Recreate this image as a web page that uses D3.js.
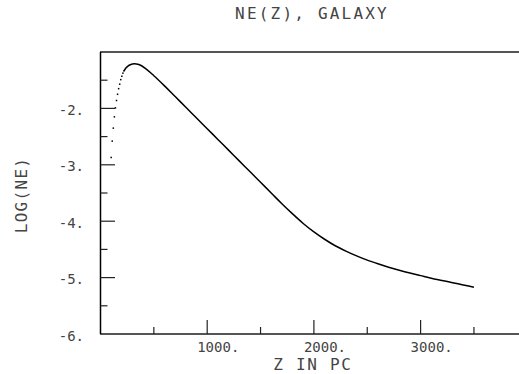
<!DOCTYPE html>
<html>
<head>
<meta charset="utf-8">
<script src="https://cdn.jsdelivr.net/npm/d3@7"></script>
<style>
  html, body { margin: 0; padding: 0; background: #fff; }
  text { font-family: "DejaVu Sans Mono", monospace; fill: #444; }
</style>
</head>
<body>
<svg id="chart" width="519" height="374"></svg>
<script>
// sparse rising part (drawn as separate dots, as in the plotter output)
const riseZ = [100, 110, 120, 130, 140, 150, 160, 170, 180, 190, 200, 210, 220];
const riseLogNe = [-2.87, -2.58, -2.35, -2.15, -1.99, -1.86, -1.75, -1.65, -1.57, -1.49, -1.43, -1.375, -1.335];

// dense part (dots merge into a line)
const curveZ = [220, 240, 260, 280, 300, 320, 350, 380, 420, 500, 600, 700, 800, 900,
  1000, 1100, 1200, 1300, 1400, 1500, 1600, 1700, 1800, 1900, 2000, 2100, 2200, 2300,
  2400, 2500, 2600, 2700, 2800, 2900, 3000, 3100, 3200, 3300, 3400, 3500];
const curveLogNe = [-1.335, -1.28, -1.245, -1.225, -1.213, -1.21, -1.218, -1.24, -1.29, -1.42, -1.60, -1.79, -1.98, -2.17,
  -2.36, -2.55, -2.74, -2.93, -3.12, -3.31, -3.50, -3.69, -3.87, -4.04, -4.19, -4.32, -4.435, -4.53,
  -4.615, -4.69, -4.755, -4.815, -4.87, -4.92, -4.965, -5.01, -5.05, -5.09, -5.13, -5.17];

const xMajor = [1000, 2000, 3000];
const xMinor = [500, 1500, 2500, 3500];
const yMajor = [-2, -3, -4, -5];
const yMinor = [-1.5, -2.5, -3.5, -4.5, -5.5];
const yLabels = [-2, -3, -4, -5, -6];

const svg = d3.select("#chart");

const x = d3.scaleLinear().domain([0, 4000]).range([100.5, 527.3]);
const y = d3.scaleLinear().domain([-6, -1]).range([334, 52]);

// frame: top and bottom lines run off the right edge, left axis solid
svg.append("line").attr("x1", 100).attr("x2", 519).attr("y1", y(-1)).attr("y2", y(-1))
  .attr("stroke", "#555").attr("stroke-width", 1.8);
svg.append("line").attr("x1", 100).attr("x2", 519).attr("y1", y(-6)).attr("y2", y(-6))
  .attr("stroke", "#555").attr("stroke-width", 1.8);
svg.append("line").attr("x1", 100.5).attr("x2", 100.5).attr("y1", y(-1)).attr("y2", y(-6))
  .attr("stroke", "#000").attr("stroke-width", 1.5);

// y ticks
svg.selectAll(".ymaj").data(yMajor).enter().append("line")
  .attr("x1", 100.5).attr("x2", 115).attr("y1", d => y(d)).attr("y2", d => y(d))
  .attr("stroke", "#222").attr("stroke-width", 1.2);
svg.selectAll(".ymin").data(yMinor).enter().append("line")
  .attr("x1", 100.5).attr("x2", 107.5).attr("y1", d => y(d)).attr("y2", d => y(d))
  .attr("stroke", "#222").attr("stroke-width", 1.2);

// x ticks
svg.selectAll(".xmaj").data(xMajor).enter().append("line")
  .attr("x1", d => x(d)).attr("x2", d => x(d)).attr("y1", y(-6)).attr("y2", y(-6) - 14)
  .attr("stroke", "#222").attr("stroke-width", 1.2);
svg.selectAll(".xmin").data(xMinor).enter().append("line")
  .attr("x1", d => x(d)).attr("x2", d => x(d)).attr("y1", y(-6)).attr("y2", y(-6) - 7)
  .attr("stroke", "#222").attr("stroke-width", 1.2);

// tick labels
svg.selectAll(".xlab").data(xMajor).enter().append("text")
  .attr("x", d => x(d) - 10).attr("y", 352)
  .attr("font-size", 14)
  .text(d => d + ".");
svg.selectAll(".ylab").data(yLabels).enter().append("text")
  .attr("x", 84).attr("y", d => y(d) + 6.5)
  .attr("text-anchor", "end")
  .attr("font-size", 14)
  .text(d => d + ".");

// titles
svg.append("text").attr("x", 312).attr("y", 19).attr("text-anchor", "middle")
  .attr("font-size", 16).attr("letter-spacing", 2.2)
  .text("NE(Z), GALAXY");
svg.append("text").attr("x", 313).attr("y", 370).attr("text-anchor", "middle")
  .attr("font-size", 16).attr("letter-spacing", 1.7)
  .text("Z IN PC");
svg.append("text")
  .attr("transform", "translate(27,195) rotate(-90)")
  .attr("text-anchor", "middle")
  .attr("font-size", 16).attr("letter-spacing", 1.3)
  .text("LOG(NE)");

// data
svg.selectAll(".dot").data(riseZ).enter().append("rect")
  .attr("x", d => x(d) - 0.75)
  .attr("y", (d, i) => y(riseLogNe[i]) - 0.75)
  .attr("width", 1.5).attr("height", 1.5)
  .attr("fill", "#000");

const line = d3.line()
  .x(d => x(d[0]))
  .y(d => y(d[1]))
  .curve(d3.curveMonotoneX);

svg.append("path")
  .datum(d3.zip(curveZ, curveLogNe))
  .attr("d", line)
  .attr("fill", "none")
  .attr("stroke", "#000")
  .attr("stroke-width", 1.5);
</script>
</body>
</html>
